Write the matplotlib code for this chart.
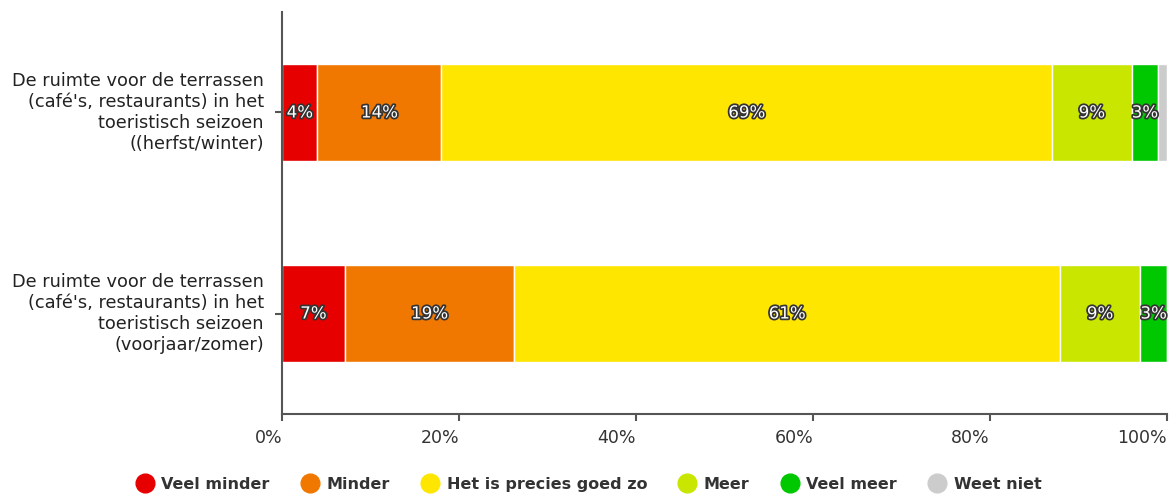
import matplotlib
matplotlib.use("Agg")
import matplotlib.pyplot as plt
import matplotlib.patheffects as pe
from matplotlib.lines import Line2D
import numpy as np

categories = [
    "De ruimte voor de terrassen\n(café's, restaurants) in het\ntoeristisch seizoen\n((herfst/winter)",
    "De ruimte voor de terrassen\n(café's, restaurants) in het\ntoeristisch seizoen\n(voorjaar/zomer)",
]
series = ["Veel minder", "Minder", "Het is precies goed zo", "Meer", "Veel meer", "Weet niet"]
colors = ["#E60000", "#F07800", "#FFE600", "#C8E600", "#00C800", "#CCCCCC"]
values = {
    "Veel minder": [4, 7],
    "Minder": [14, 19],
    "Het is precies goed zo": [69, 61],
    "Meer": [9, 9],
    "Veel meer": [3, 3],
    "Weet niet": [1, 0],
}
xticks = [0, 20, 40, 60, 80, 100]

fig = plt.figure(figsize=(11.72, 4.95), dpi=100)
ax = fig.add_axes([282/1172, 81/495, 885/1172, 402/495])

ypos = np.array([1, 0])
totals = np.sum([values[s] for s in series], axis=0)
left = np.zeros(len(categories))
for s, c in zip(series, colors):
    raw = np.array(values[s], dtype=float)
    pct = raw / totals * 100
    ax.barh(ypos, pct, left=left, height=0.48, color=c, edgecolor="white", linewidth=1)
    for i in range(len(categories)):
        if raw[i] >= 2:
            ax.text(left[i] + pct[i] / 2, ypos[i], f"{raw[i]:.0f}%", ha="center", va="center",
                    fontsize=12, color="white",
                    path_effects=[pe.withStroke(linewidth=2.5, foreground="#333333")])
    left += pct

ax.set_xlim(0, 100)
ax.set_ylim(-0.5, 1.5)
ax.set_yticks(ypos)
ax.set_yticklabels(categories, fontsize=12.8, color="#222222", ha="right", va="center",
                   multialignment="right", linespacing=1.22)
ax.tick_params(axis="y", length=5, width=1.5, color="#555555", pad=8)
ax.set_xticks(xticks)
ax.set_xticklabels([f"{t}%" for t in xticks], fontsize=12.5, color="#333333", ha="right")
ax.tick_params(axis="x", length=5, width=1.5, color="#555555", pad=6)
for sp in ["top", "right"]:
    ax.spines[sp].set_visible(False)
for sp in ["left", "bottom"]:
    ax.spines[sp].set_color("#555555")
    ax.spines[sp].set_linewidth(1.5)

handles = [Line2D([0], [0], marker="o", color="none", markerfacecolor=c, markeredgecolor=c,
                  markersize=13.5) for c in colors]
fig.legend(handles, series, loc="lower center", bbox_to_anchor=(0.502, -0.022), ncol=6,
           frameon=False, prop={"size": 11.5, "weight": "bold"}, handletextpad=0.45,
           columnspacing=1.9, labelcolor="#333333", handlelength=1.2)

fig.savefig("out.png", dpi=100, facecolor="white")
